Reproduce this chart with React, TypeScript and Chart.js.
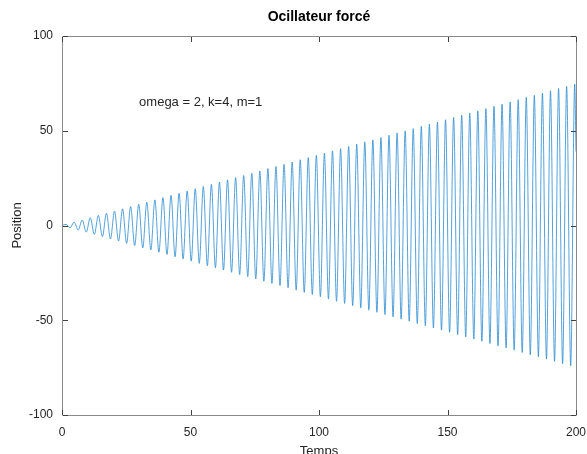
import { useEffect, useRef } from "react";
import { Chart, registerables } from "chart.js";

Chart.register(...registerables);

const TITLE = "Ocillateur forcé";
const X_LABEL = "Temps";
const Y_LABEL = "Position";
const NOTE = "omega = 2, k=4, m=1";
const NOTE_X = 30;
const NOTE_Y = 65;
const X_TICKS = [0, 50, 100, 150, 200];
const Y_TICKS = [-100, -50, 0, 50, 100];

// times of the successive extremes of the oscillation (plus start and end)
const TIMES = [
  0, 1.58, 3.15, 4.72, 6.29, 7.86, 9.43, 11.01, 12.58, 14.15, 15.72,
  17.29, 18.86, 20.43, 22.0, 23.57, 25.14, 26.71, 28.28, 29.86, 31.43,
  33.0, 34.57, 36.14, 37.71, 39.28, 40.85, 42.42, 43.99, 45.56, 47.13,
  48.7, 50.28, 51.85, 53.42, 54.99, 56.56, 58.13, 59.7, 61.27, 62.84,
  64.41, 65.98, 67.55, 69.13, 70.7, 72.27, 73.84, 75.41, 76.98, 78.55,
  80.12, 81.69, 83.26, 84.83, 86.4, 87.97, 89.55, 91.12, 92.69, 94.26,
  95.83, 97.4, 98.97, 100.54, 102.11, 103.68, 105.25, 106.82, 108.4, 109.97,
  111.54, 113.11, 114.68, 116.25, 117.82, 119.39, 120.96, 122.53, 124.1, 125.67,
  127.24, 128.82, 130.39, 131.96, 133.53, 135.1, 136.67, 138.24, 139.81, 141.38,
  142.95, 144.52, 146.09, 147.67, 149.24, 150.81, 152.38, 153.95, 155.52, 157.09,
  158.66, 160.23, 161.8, 163.37, 164.94, 166.51, 168.09, 169.66, 171.23, 172.8,
  174.37, 175.94, 177.51, 179.08, 180.65, 182.22, 183.79, 185.36, 186.94, 188.51,
  190.08, 191.65, 193.22, 194.79, 196.36, 197.93, 199.5, 200,
];

// position at each of those times
const POSITIONS = [
  0, 0.6, -1.2, 1.8, -2.4, 2.9, -3.5, 4.1, -4.7, 5.3, -5.9,
  6.5, -7.1, 7.6, -8.2, 8.8, -9.4, 10.0, -10.6, 11.2, -11.8,
  12.3, -12.9, 13.5, -14.1, 14.7, -15.3, 15.9, -16.5, 17.0, -17.6,
  18.2, -18.8, 19.4, -20.0, 20.6, -21.2, 21.7, -22.3, 22.9, -23.5,
  24.1, -24.7, 25.3, -25.9, 26.4, -27.0, 27.6, -28.2, 28.8, -29.4,
  30.0, -30.6, 31.1, -31.7, 32.3, -32.9, 33.5, -34.1, 34.7, -35.3,
  35.8, -36.4, 37.0, -37.6, 38.2, -38.8, 39.4, -40.0, 40.5, -41.1,
  41.7, -42.3, 42.9, -43.5, 44.1, -44.7, 45.2, -45.8, 46.4, -47.0,
  47.6, -48.2, 48.8, -49.4, 49.9, -50.5, 51.1, -51.7, 52.3, -52.9,
  53.5, -54.1, 54.6, -55.2, 55.8, -56.4, 57.0, -57.6, 58.2, -58.8,
  59.3, -59.9, 60.5, -61.1, 61.7, -62.3, 62.9, -63.5, 64.0, -64.6,
  65.2, -65.8, 66.4, -67.0, 67.6, -68.2, 68.7, -69.3, 69.9, -70.5,
  71.1, -71.7, 72.3, -72.9, 73.4, -74.0, 74.6, 39,
];

const FONT = "'Liberation Sans', Arial, Helvetica, sans-serif";

const framePlugin = {
  id: "octaveFrame",
  afterDatasetsDraw(chart: any) {
    const { ctx, chartArea, scales } = chart;
    const { left, right, top, bottom } = chartArea;
    ctx.save();
    // box
    ctx.strokeStyle = "#8a8a8a";
    ctx.lineWidth = 1;
    ctx.beginPath();
    ctx.moveTo(Math.round(left) + 0.5, Math.round(top) + 0.5);
    ctx.lineTo(Math.round(right) + 0.5, Math.round(top) + 0.5);
    ctx.lineTo(Math.round(right) + 0.5, Math.round(bottom) + 0.5);
    ctx.lineTo(Math.round(left) + 0.5, Math.round(bottom) + 0.5);
    ctx.closePath();
    ctx.stroke();
    // inward ticks
    ctx.strokeStyle = "#404040";
    ctx.beginPath();
    const tl = 5;
    for (const v of X_TICKS) {
      const px = Math.round(scales.x.getPixelForValue(v)) + 0.5;
      ctx.moveTo(px, Math.round(bottom));
      ctx.lineTo(px, Math.round(bottom) - tl);
      ctx.moveTo(px, Math.round(top) + 1);
      ctx.lineTo(px, Math.round(top) + 1 + tl);
    }
    for (const v of Y_TICKS) {
      const py = Math.round(scales.y.getPixelForValue(v)) + 0.5;
      ctx.moveTo(Math.round(left) + 1, py);
      ctx.lineTo(Math.round(left) + 1 + tl, py);
      ctx.moveTo(Math.round(right), py);
      ctx.lineTo(Math.round(right) - tl, py);
    }
    ctx.stroke();
    // annotation
    ctx.fillStyle = "#262626";
    ctx.font = `13px ${FONT}`;
    ctx.textAlign = "left";
    ctx.textBaseline = "middle";
    ctx.fillText(
      NOTE,
      scales.x.getPixelForValue(NOTE_X),
      scales.y.getPixelForValue(NOTE_Y)
    );
    ctx.restore();
  },
};

export default function App() {
  const canvasRef = useRef<HTMLCanvasElement | null>(null);

  useEffect(() => {
    const canvas = canvasRef.current;
    if (!canvas) return;
    const points = TIMES.map((t, i) => ({ x: t, y: POSITIONS[i] }));
    const chart = new Chart(canvas, {
      type: "line",
      data: {
        datasets: [
          {
            data: points,
            borderColor: "#2a8ad0",
            borderWidth: 0.8,
            pointRadius: 0,
            fill: false,
            cubicInterpolationMode: "monotone",
          },
        ],
      },
      options: {
        responsive: false,
        animation: false,
        events: [],
        parsing: false as any,
        layout: { padding: { left: 0, right: 11, top: 0, bottom: 0 } },
        plugins: {
          legend: { display: false },
          tooltip: { enabled: false },
          title: {
            display: true,
            text: TITLE,
            fullSize: false,
            color: "#000000",
            font: { family: FONT, size: 14, weight: "bold" },
            padding: { top: 9, bottom: 10.2 },
          },
        },
        scales: {
          x: {
            type: "linear",
            min: 0,
            max: 200,
            afterBuildTicks: (s: any) => {
              s.ticks = X_TICKS.map((v) => ({ value: v }));
            },
            afterFit: (s: any) => {
              s.height = 39;
              s.paddingLeft = 0;
              s.paddingRight = 0;
            },
            grid: { display: false, drawTicks: false },
            border: { display: false },
            ticks: {
              color: "#262626",
              font: { family: FONT, size: 12 },
              padding: 10,
              maxRotation: 0,
              autoSkip: false,
            },
            title: {
              display: true,
              text: X_LABEL,
              color: "#262626",
              font: { family: FONT, size: 13 },
              padding: { top: 0, bottom: -5 },
            },
          },
          y: {
            type: "linear",
            min: -100,
            max: 100,
            afterBuildTicks: (s: any) => {
              s.ticks = Y_TICKS.map((v) => ({ value: v }));
            },
            afterFit: (s: any) => {
              s.width = 62;
              s.paddingTop = 0;
              s.paddingBottom = 0;
            },
            grid: { display: false, drawTicks: false },
            border: { display: false },
            ticks: {
              color: "#262626",
              font: { family: FONT, size: 12 },
              padding: 9,
              autoSkip: false,
            },
            title: {
              display: true,
              text: Y_LABEL,
              color: "#262626",
              font: { family: FONT, size: 13 },
              padding: { top: 9.2, bottom: 0 },
            },
          },
        },
      },
      plugins: [framePlugin],
    });
    return () => chart.destroy();
  }, []);

  return (
    <div
      style={{
        position: "fixed",
        left: 0,
        top: 0,
        width: 587,
        height: 454,
        background: "#ffffff",
      }}
    >
      <canvas ref={canvasRef} width={587} height={454} />
    </div>
  );
}
